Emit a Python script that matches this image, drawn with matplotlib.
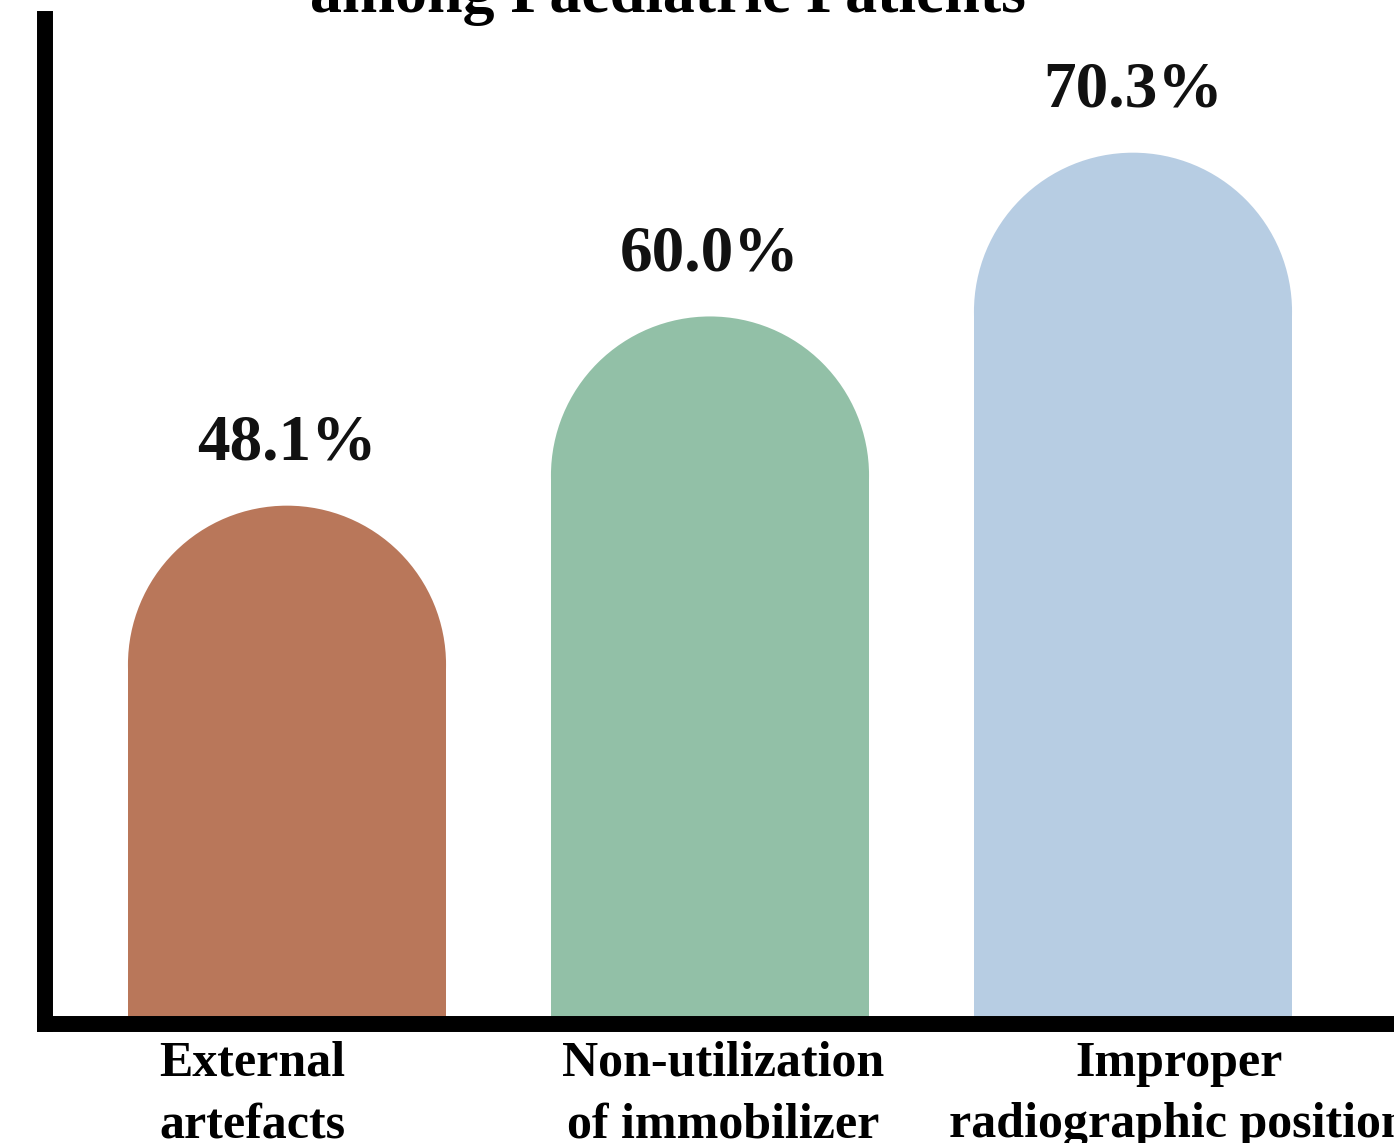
import matplotlib
matplotlib.use("Agg")
import matplotlib.pyplot as plt
from matplotlib.patches import Ellipse, Rectangle

categories = ["External\nartefacts", "Non-utilization\nof immobilizer", "Improper\nradiographic position"]
values = [48.1, 60.0, 70.3]
value_labels = ["48.1%", "60.0%", "70.3%"]
colors = ["#B9775A", "#92C0A7", "#B7CDE3"]

title = "among Paediatric Patients"

plt.rcParams["font.family"] = ["Liberation Serif", "DejaVu Serif"]

W, H = 1394, 1143
left_px, bottom_px, top_px = 45, 1024, 19
fig = plt.figure(figsize=(W / 100, H / 100), dpi=100)
ax = fig.add_axes([left_px / W, 1 - bottom_px / H, 1 - left_px / W, (bottom_px - top_px) / H])

ymin = 15.5
ymax = ymin + (bottom_px - top_px) / 15.9
ax.set_xlim(-(287 - left_px) / 423, 2 + (W - 1133) / 423)
ax.set_ylim(ymin, ymax)

width = 0.752
# vertical radius in data units so that the cap is a round half-circle on screen
xl = ax.get_xlim()
px_x = ax.bbox.width / (xl[1] - xl[0])
px_y = ax.bbox.height / (ymax - ymin)
r_y = (width / 2) * px_x / px_y

for i, (v, c) in enumerate(zip(values, colors)):
    ax.add_patch(Rectangle((i - width / 2, ymin), width, v - r_y - ymin,
                           facecolor=c, edgecolor="none", zorder=1))
    ax.add_patch(Ellipse((i, v - r_y), width, 2 * r_y,
                         facecolor=c, edgecolor="none", zorder=1))
    ax.text(i, v + 2.0, value_labels[i], ha="center", va="bottom",
            fontsize=47, fontweight="bold", color="#111111")

# category labels sit a bit off the bar centres in the original
label_shift = [-35, 13, 46]
for i, (cat, dx) in enumerate(zip(categories, label_shift)):
    ax.annotate(cat, xy=(i, ymin), xycoords="data", xytext=(dx * 0.72, -12),
                textcoords="offset points", ha="center", va="top",
                fontsize=36, fontweight="bold", linespacing=1.45,
                annotation_clip=False)

for side in ["top", "right"]:
    ax.spines[side].set_visible(False)
for side in ["left", "bottom"]:
    ax.spines[side].set_linewidth(11.5)
    ax.spines[side].set_color("black")
    ax.spines[side].set_zorder(3)
ax.set_xticks([])
ax.set_yticks([])

fig.text(668 / W, 1 - 12 / H, title, ha="center", va="baseline",
         fontsize=46, fontweight="bold")

fig.savefig("out.png", dpi=100)
